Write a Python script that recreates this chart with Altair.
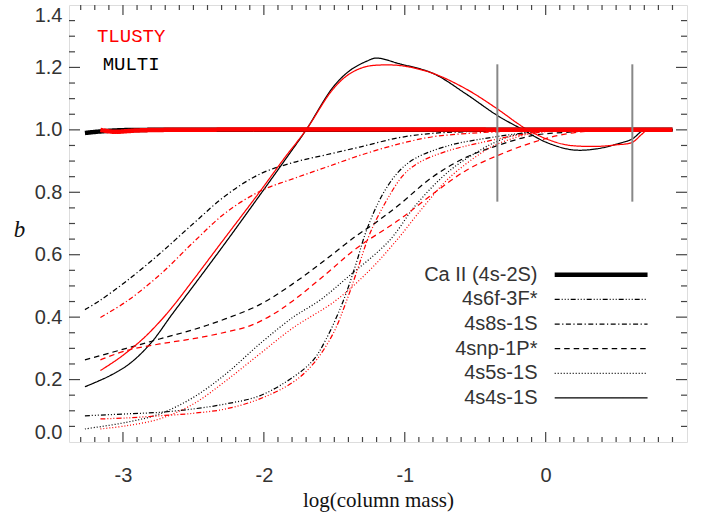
import altair as alt
import pandas as pd
import numpy as np

# ---------------- data ----------------
levels = ["Ca II (4s-2S)", "4s6f-3F*", "4s8s-1S", "4snp-1P*", "4s5s-1S", "4s4s-1S"]
codes = ["MULTI", "TLUSTY"]
code_colors = ["#000000", "#ff0000"]

# Ca II (4s-2S)
m_caii_x = [-3.27, -3.16, -3.0, -2.8, 0.9]
m_caii_y = [0.990, 0.995, 0.999, 1.0, 1.0]
t_caii_x = [-3.16, -3.07, -2.9, -2.7, 0.9]
t_caii_y = [1.0, 0.994, 0.998, 1.0, 1.0]

# 4s6f-3F*
m_6f_x = [-3.27, -2.976, -2.74, -2.50, -2.27, -2.03, -1.795, -1.65, -1.56, -1.44, -1.35, -1.27, -1.155, -1.04, -0.92, -0.685, -0.45, -0.21, 0.0, 0.2, 0.9]
m_6f_y = [0.084, 0.090, 0.095, 0.106, 0.122, 0.148, 0.207, 0.262, 0.328, 0.448, 0.565, 0.680, 0.795, 0.868, 0.910, 0.950, 0.971, 0.987, 0.997, 1.0, 1.0]
t_6f_x = [-3.16, -2.976, -2.74, -2.50, -2.27, -2.03, -1.795, -1.65, -1.51, -1.415, -1.33, -1.25, -1.13, -1.01, -0.896, -0.685, -0.45, -0.21, 0.1, 0.3, 0.9]
t_6f_y = [0.074, 0.077, 0.084, 0.092, 0.106, 0.138, 0.191, 0.250, 0.346, 0.450, 0.560, 0.665, 0.773, 0.855, 0.896, 0.934, 0.960, 0.982, 0.998, 1.0, 1.0]

# 4s8s-1S
m_8s_x = [-3.27, -3.165, -2.976, -2.74, -2.50, -2.27, -2.03, -1.795, -1.56, -1.32, -1.04, -0.80, -0.565, -0.30, 0.0, 0.9]
m_8s_y = [0.424, 0.453, 0.515, 0.603, 0.700, 0.790, 0.858, 0.895, 0.920, 0.945, 0.975, 0.989, 0.994, 0.998, 1.0, 1.0]
t_8s_x = [-3.16, -2.976, -2.74, -2.50, -2.27, -2.02, -1.795, -1.56, -1.32, -1.04, -0.80, -0.565, -0.30, -0.10, 0.9]
t_8s_y = [0.399, 0.450, 0.535, 0.640, 0.735, 0.805, 0.843, 0.880, 0.918, 0.955, 0.978, 0.988, 0.995, 1.0, 1.0]

# 4snp-1P*
m_np_x = [-3.27, -2.976, -2.74, -2.50, -2.27, -2.03, -1.80, -1.56, -1.345, -1.20, -1.04, -0.80, -0.565, -0.34, -0.09, 0.146, 0.40, 0.9]
m_np_y = [0.263, 0.300, 0.330, 0.360, 0.395, 0.440, 0.505, 0.585, 0.660, 0.705, 0.760, 0.850, 0.912, 0.950, 0.982, 0.992, 0.999, 1.0]
t_np_x = [-3.16, -2.976, -2.74, -2.50, -2.27, -2.10, -1.95, -1.795, -1.56, -1.345, -1.04, -0.80, -0.565, -0.34, -0.09, 0.146, 0.40, 0.9]
t_np_y = [0.263, 0.293, 0.314, 0.331, 0.352, 0.372, 0.405, 0.452, 0.538, 0.620, 0.712, 0.795, 0.870, 0.918, 0.960, 0.987, 0.999, 1.0]

# 4s5s-1S
m_5s_x = [-3.27, -2.976, -2.74, -2.50, -2.27, -2.03, -1.795, -1.60, -1.40, -1.11, -0.92, -0.685, -0.45, -0.34, -0.21, 0.0, 0.2, 0.9]
m_5s_y = [0.042, 0.063, 0.090, 0.143, 0.218, 0.314, 0.399, 0.455, 0.530, 0.645, 0.760, 0.868, 0.939, 0.964, 0.985, 0.997, 1.0, 1.0]
t_5s_x = [-3.16, -2.976, -2.74, -2.50, -2.27, -2.03, -1.795, -1.49, -1.25, -1.06, -0.87, -0.685, -0.45, -0.34, -0.09, 0.15, 0.9]
t_5s_y = [0.042, 0.052, 0.074, 0.122, 0.196, 0.282, 0.365, 0.453, 0.550, 0.645, 0.752, 0.846, 0.928, 0.955, 0.990, 1.0, 1.0]

# 4s4s-1S
m_4s_x = [-3.27, -3.09, -2.95, -2.80, -2.65, -2.50, -2.27, -2.03, -1.84, -1.70, -1.51, -1.39, -1.27, -1.20, -1.04, -0.80, -0.565, -0.343, -0.16, 0.005, 0.19, 0.36, 0.525, 0.615, 0.70, 0.9]
m_4s_y = [0.177, 0.213, 0.252, 0.318, 0.410, 0.500, 0.640, 0.790, 0.910, 1.0, 1.136, 1.190, 1.220, 1.230, 1.212, 1.181, 1.115, 1.046, 1.0, 0.960, 0.936, 0.939, 0.957, 0.971, 1.0, 1.0]
t_4s_x = [-3.16, -3.02, -2.86, -2.74, -2.645, -2.50, -2.30, -2.04, -1.85, -1.70, -1.51, -1.39, -1.27, -1.13, -1.00, -0.80, -0.565, -0.343, -0.21, -0.128, 0.0, 0.146, 0.359, 0.50, 0.615, 0.68, 0.725, 0.9]
t_4s_y = [0.229, 0.271, 0.330, 0.385, 0.435, 0.520, 0.640, 0.795, 0.912, 1.0, 1.130, 1.180, 1.203, 1.208, 1.204, 1.181, 1.131, 1.067, 1.024, 1.0, 0.972, 0.952, 0.947, 0.952, 0.960, 0.985, 1.0, 1.0]

# grey vertical markers
marker_x = [-0.343, 0.615]
marker_y = [0.77, 1.21]

# axis ticks
x_major = [-3, -2, -1, 0]
y_major = [0.2, 0.4, 0.6, 0.8, 1.0, 1.2]
y_labels = [0.0, 0.2, 0.4, 0.6, 0.8, 1.0, 1.2, 1.4]

# ---------------- build tables ----------------
curves = [
    ("MULTI", levels[0], m_caii_x, m_caii_y), ("TLUSTY", levels[0], t_caii_x, t_caii_y),
    ("MULTI", levels[1], m_6f_x, m_6f_y), ("TLUSTY", levels[1], t_6f_x, t_6f_y),
    ("MULTI", levels[2], m_8s_x, m_8s_y), ("TLUSTY", levels[2], t_8s_x, t_8s_y),
    ("MULTI", levels[3], m_np_x, m_np_y), ("TLUSTY", levels[3], t_np_x, t_np_y),
    ("MULTI", levels[4], m_5s_x, m_5s_y), ("TLUSTY", levels[4], t_5s_x, t_5s_y),
    ("MULTI", levels[5], m_4s_x, m_4s_y), ("TLUSTY", levels[5], t_4s_x, t_4s_y),
]
rows = []
for code, lev, xs_, ys_ in curves:
    for i, (a, b) in enumerate(zip(xs_, ys_)):
        rows.append({"code": code, "level": lev, "x": a, "y": b, "i": i})
df = pd.DataFrame(rows)

dashes = [[1, 0], [5, 2, 1, 2, 1, 2, 1, 2], [5, 2.5, 1.2, 2.5], [5.5, 4], [1, 2], [1, 0]]
THIN, THICK = 1.25, 4.5

xs = alt.Scale(domain=[-3.383, 1.003], nice=False, zero=False)
ys = alt.Scale(domain=[0, 1.4], nice=False, zero=False)
xaxis = alt.Axis(values=x_major, labelExpr="'' + datum.value", ticks=False, tickSize=0,
                 domain=False, grid=False, labelFont="Liberation Sans", labelFontSize=20,
                 labelColor="#333333", labelPadding=23, title="log(column mass)",
                 titleFont="Liberation Serif", titleFontSize=21, titleFontWeight="normal",
                 titleColor="#111111", titlePadding=4)
yaxis = alt.Axis(values=y_labels, format=".1f", ticks=False, tickSize=0, domain=False,
                 grid=False, labelFont="Liberation Sans", labelFontSize=20,
                 labelColor="#333333", labelPadding=7, labelFlush=True, labelFlushOffset=0,
                 title="b", titleFont="Liberation Serif", titleFontStyle="italic",
                 titleFontSize=23, titleFontWeight="normal", titleColor="#111111",
                 titleAngle=0, titleX=-50, titleY=224, titleAlign="center",
                 titleBaseline="middle")


def X(f):
    return alt.X(f, type="quantitative", scale=xs, axis=xaxis)


def Y(f):
    return alt.Y(f, type="quantitative", scale=ys, axis=yaxis)


color = alt.Color("code:N", scale=alt.Scale(domain=codes, range=code_colors), legend=None)
dash = alt.StrokeDash("level:N", scale=alt.Scale(domain=levels, range=dashes), legend=None)


def curve_layer(code, thick):
    sub = df[(df.code == code) & ((df.level == levels[0]) == thick)]
    return alt.Chart(sub).mark_line(interpolate="catmull-rom", strokeCap="butt",
                                    strokeWidth=THICK if thick else THIN).encode(
        x=X("x"), y=Y("y"), color=color, strokeDash=dash,
        detail="level:N", order="i:Q")


layers = [curve_layer("MULTI", False), curve_layer("TLUSTY", False),
          curve_layer("MULTI", True), curve_layer("TLUSTY", True)]

mk = pd.DataFrame({"x": marker_x, "y": [marker_y[0]] * 2, "y2": [marker_y[1]] * 2})
layers.append(alt.Chart(mk).mark_rule(color="#888888", strokeWidth=2).encode(
    x=X("x"), y=Y("y"), y2="y2"))

# legend (manual, right-aligned labels left of line samples)
leg = pd.DataFrame({"level": levels,
                    "y": [0.536 - 0.079 * k for k in range(len(levels))],
                    "tx": -0.058, "x1": 0.064, "x2": 0.723})
layers.append(alt.Chart(leg[leg.level == levels[0]]).mark_rule(
    color="black", strokeCap="butt", strokeWidth=THICK).encode(
    x=X("x1"), x2="x2", y=Y("y"), strokeDash=dash))
layers.append(alt.Chart(leg[leg.level != levels[0]]).mark_rule(
    color="black", strokeCap="butt", strokeWidth=THIN).encode(
    x=X("x1"), x2="x2", y=Y("y"), strokeDash=dash))
layers.append(alt.Chart(leg).mark_text(align="right", baseline="middle",
                                       font="Liberation Sans", fontSize=20,
                                       color="#333333").encode(
    x=X("tx"), y=Y("y"), text="level:N"))

# code labels
lab = pd.DataFrame({"code": ["TLUSTY", "MULTI"], "x": [-2.942, -2.942], "y": [1.302, 1.2125]})
layers.append(alt.Chart(lab).mark_text(align="center", baseline="middle",
                                       font="Liberation Mono", fontSize=19).encode(
    x=X("x"), y=Y("y"), text="code:N", color=color))

# inward ticks on all four sides
W, H = 618, 437
x_minor = [round(v, 1) for v in np.arange(-3.3, 0.95, 0.1) if round(v, 1) not in x_major]
y_minor = [round(v, 2) for v in np.arange(0.05, 1.38, 0.05) if round(v, 2) not in y_major]
tick_col = "#444444"
for vals, L in ((x_major, 10), (x_minor, 5)):
    d = pd.DataFrame({"v": vals})
    layers.append(alt.Chart(d).mark_rule(color=tick_col, strokeWidth=1.2).encode(
        x=X("v"), y=alt.value(H), y2=alt.value(H - L)))
    layers.append(alt.Chart(d).mark_rule(color=tick_col, strokeWidth=1.2).encode(
        x=X("v"), y=alt.value(0), y2=alt.value(L)))
for vals, L in ((y_major, 11), (y_minor, 6)):
    d = pd.DataFrame({"v": vals})
    layers.append(alt.Chart(d).mark_rule(color=tick_col, strokeWidth=1.2).encode(
        y=Y("v"), x=alt.value(0), x2=alt.value(L)))
    layers.append(alt.Chart(d).mark_rule(color=tick_col, strokeWidth=1.2).encode(
        y=Y("v"), x=alt.value(W), x2=alt.value(W - L)))

chart = alt.layer(*layers).properties(
    width=W, height=H,
    autosize=alt.AutoSizeParams(type="none"),
    padding={"left": 69, "top": 5, "right": 21, "bottom": 74},
).configure_view(stroke="#222222", strokeWidth=1.5).configure(background="white")

chart.save("out.html", embed_options={"renderer": "svg", "actions": False})
